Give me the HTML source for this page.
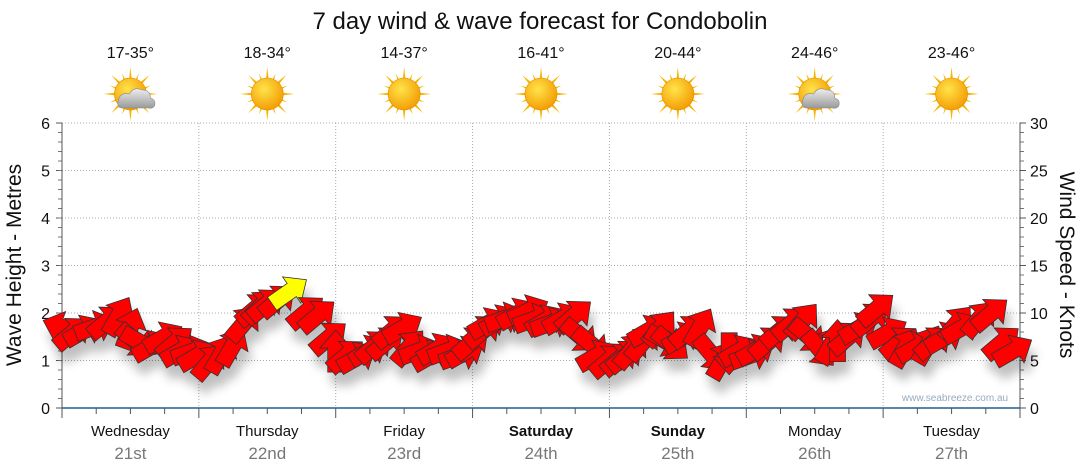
<!DOCTYPE html>
<html><head><meta charset="utf-8"><style>
html,body{margin:0;padding:0;background:#fff;}
svg{display:block;font-family:"Liberation Sans","DejaVu Sans",sans-serif;}
</style></head><body>
<svg id="chart" width="1080" height="475" viewBox="0 0 1080 475">
<defs>
<filter id="sh" x="-50%" y="-50%" width="200%" height="250%"><feGaussianBlur in="SourceAlpha" stdDeviation="5"/><feOffset dx="4" dy="12"/><feComponentTransfer><feFuncA type="linear" slope="0.25"/></feComponentTransfer><feMerge><feMergeNode/><feMergeNode in="SourceGraphic"/></feMerge></filter>
<radialGradient id="sun" cx="40%" cy="35%" r="70%"><stop offset="0" stop-color="#ffe34a"/><stop offset="1" stop-color="#f39a00"/></radialGradient>
<linearGradient id="cl" x1="0" y1="0" x2="0" y2="1"><stop offset="0" stop-color="#eee"/><stop offset="1" stop-color="#999"/></linearGradient>
</defs>
<text x="540" y="29" text-anchor="middle" font-size="24" fill="#111">7 day wind &amp; wave forecast for Condobolin</text>
<g id="grid"></g><g id="axes"></g><g id="icons"></g><g id="arrows" filter="url(#sh)"></g>
<text x="955" y="401" text-anchor="middle" font-size="10" fill="#9ab">www.seabreeze.com.au</text>
<text transform="translate(21,265) rotate(-90)" text-anchor="middle" font-size="21" fill="#111">Wave Height - Metres</text>
<text transform="translate(1060,265) rotate(90)" text-anchor="middle" font-size="21" fill="#111">Wind Speed - Knots</text>
</svg>
<script>
const days=["Wednesday","Thursday","Friday","Saturday","Sunday","Monday","Tuesday"];
const dates=["21st","22nd","23rd","24th","25th","26th","27th"];
const temps=["17-35°","18-34°","14-37°","16-41°","20-44°","24-46°","23-46°"];
const cloudy=[true,false,false,false,false,true,false];
const boldDays=[false,false,false,true,true,false,false];
const waveTicks=[0,1,2,3,4,5,6];
const windTicks=[0,5,10,15,20,25,30];
const windHours=[0,2,4,6,8,10,12,13,14,16,18,20,21,23,24,26,28,30,32,34,35,36,38,40,43,45,47,48,50,52,54,55,57,58,60,61,63,65,66,68,70,71,72,74,75,77,78,80,82,83,85,86,88,90,91,93,94,96,98,99,100,102,103,105,106,107,109,110,112,114,116,117,119,121,122,124,126,128,130,131,133,135,136,138,140,142,143,145,147,148,150,152,153,155,157,158,161,163,165,167];
const windSpeed=[8.5,8.0,8.2,8.6,9.2,9.8,8.5,7.0,6.8,6.6,7.5,7.0,6.1,6.0,5.6,5.0,5.8,6.6,9.0,10.5,10.8,11.0,11.4,12.3,10.2,9.8,7.5,6.1,5.6,5.4,6.1,6.6,7.0,8.2,8.5,6.5,6.1,5.6,6.3,6.1,5.6,6.0,7.0,8.2,9.0,9.3,9.5,10.0,10.3,9.4,9.3,9.0,9.5,9.8,7.5,6.6,5.6,5.1,5.3,5.6,6.2,7.0,8.2,8.5,7.0,6.6,7.5,8.2,8.6,5.6,5.2,5.6,6.1,5.6,6.2,7.0,8.2,9.0,9.3,7.5,6.1,6.8,7.2,7.5,8.5,9.5,10.5,8.0,7.0,6.5,6.5,6.8,7.0,7.5,9.0,8.5,9.5,10.0,7.0,6.1];
const windDir=[-160,-40,-30,-20,-40,-60,-70,40,30,-30,-30,-40,-30,-20,-30,-50,-60,-60,-50,-40,-45,-40,-40,-35,-40,-40,-40,-90,-40,-30,-30,-40,-40,-40,-30,-50,-20,-30,-30,-20,-20,-30,-40,-40,-30,-30,-20,-30,-25,-20,-30,-20,-30,-40,40,40,-30,-40,-40,-40,-50,-50,-30,-50,30,40,-30,-40,-60,50,-60,90,-30,-20,-30,-40,-40,-40,-50,40,50,-60,-90,-40,-30,-40,-40,-30,-40,-60,-30,-60,-40,-30,-50,-30,-50,-40,-40,-30];
const highlightIdx=[23];
const NS="http://www.w3.org/2000/svg";
const L=62,R=1020,T=123,B=408;
const xh=h=>L+(R-L)*h/168, yw=v=>B-(B-T)*v/6, yk=v=>B-(B-T)*v/30;
function mk(p,tag,at){const e=document.createElementNS(NS,tag);for(const k in at)e.setAttribute(k,at[k]);p.appendChild(e);return e;}
const g=document.getElementById('grid'),ax=document.getElementById('axes'),ic=document.getElementById('icons'),ar=document.getElementById('arrows');
waveTicks.forEach(v=>{if(v>0){const l=mk(g,'line',{x1:L,x2:R,y1:yw(v),y2:yw(v),stroke:'#aaa','stroke-dasharray':'1,2'});

}
const t=mk(ax,'text',{x:L-12,y:yw(v)+6,'text-anchor':'end','font-size':16,fill:'#111'});t.textContent=v;


mk(ax,'line',{x1:L-6,x2:L,y1:yw(v),y2:yw(v),stroke:'#555'});});
for(let i=1;i<30;i++){mk(ax,'line',{x1:L-4,x2:L,y1:yk(i),y2:yk(i),stroke:'#777'});mk(ax,'line',{x1:R,x2:R+4,y1:yk(i),y2:yk(i),stroke:'#777'});}
windTicks.forEach(v=>{const t=mk(ax,'text',{x:R+10,y:yk(v)+6,'font-size':16,fill:'#111'});t.textContent=v;


mk(ax,'line',{x1:R,x2:R+6,y1:yk(v),y2:yk(v),stroke:'#555'});});
mk(ax,'line',{x1:L,x2:L,y1:T,y2:B,stroke:'#555'});mk(ax,'line',{x1:R,x2:R,y1:T,y2:B,stroke:'#555'});
mk(ax,'line',{x1:L,x2:R,y1:B,y2:B,stroke:'#1f5f8f','stroke-width':1.5});
for(let h=0;h<=168;h+=6){mk(ax,'line',{x1:xh(h),x2:xh(h),y1:B,y2:B+(h%24?6:10),stroke:'#555'});}
days.forEach((d,i)=>{const cx=xh(i*24+12);
if(i>0){const l=mk(g,'line',{x1:xh(i*24),x2:xh(i*24),y1:T,y2:B,stroke:'#aaa','stroke-dasharray':'1,2'});

}
const t=mk(ax,'text',{x:cx,y:436,'text-anchor':'middle','font-size':15,fill:'#111','font-weight':boldDays[i]?'bold':'normal'});t.textContent=d;


const t2=mk(ax,'text',{x:cx,y:459,'text-anchor':'middle','font-size':17,fill:'#777'});t2.textContent=dates[i];


const t3=mk(ic,'text',{x:cx,y:58,'text-anchor':'middle','font-size':16,fill:'#111'});t3.textContent=temps[i];


const s=mk(ic,'g',{transform:`translate(${cx},94)`});


for(let a=0;a<16;a++){const r=a%2?22:27;mk(s,'polygon',{points:`-3,0 3,0 0,${-r}`,fill:'#f7b500',transform:`rotate(${a*22.5})`});}
mk(s,'circle',{r:16,fill:'url(#sun)',stroke:'#e08a00','stroke-width':0.6});
if(cloudy[i])mk(s,'path',{d:'M-8,14 Q-14,14 -12,6 Q-10,-2 -1,0 Q3,-8 12,-4 Q20,-4 20,4 Q26,6 24,12 Q22,15 18,14 Z',fill:'url(#cl)',stroke:'#888','stroke-width':0.6});
});
windHours.forEach((h,i)=>{const hl=highlightIdx.includes(i);
const p=mk(ar,'path',{d:'M-22,-8 L2,-8 L2,-16 L20,0 L2,16 L2,8 L-22,8 Z',fill:hl?'#ffff00':'#ff0000',stroke:'#333','stroke-width':0.8,transform:`translate(${xh(h)},${yk(windSpeed[i])}) rotate(${windDir[i]})`});

});
</script>
</body></html>
